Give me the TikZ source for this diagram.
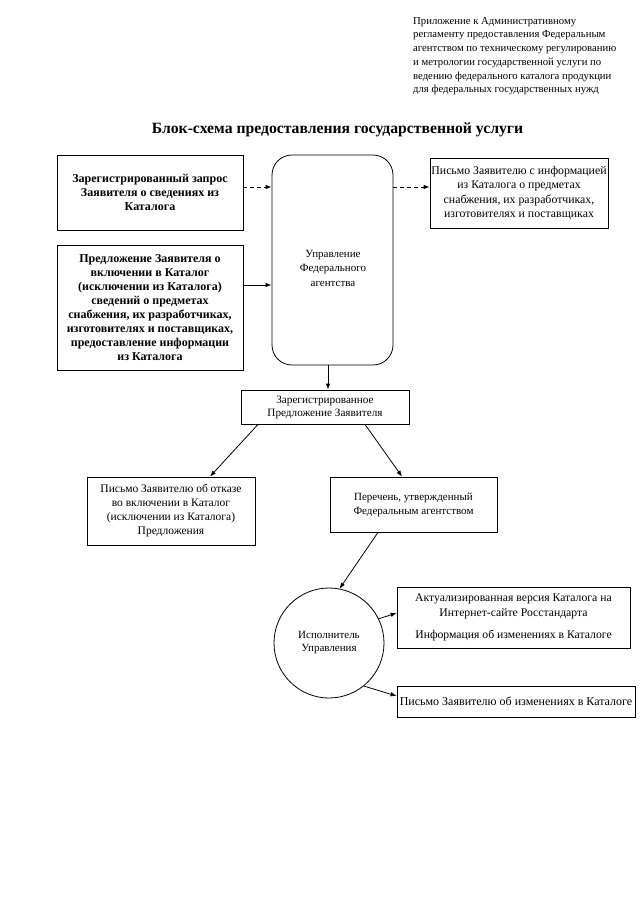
\documentclass[tikz,border=0pt]{standalone}
\usepackage{fontspec}
\setmainfont{Liberation Serif}
\usetikzlibrary{arrows.meta}
\begin{document}
\begin{tikzpicture}[x=1pt,y=-1pt,
  box/.style={draw,line width=0.8pt,inner sep=1pt,align=center,font=\fontsize{11.5}{14}\selectfont},
  bbox/.style={box,font=\bfseries\fontsize{12}{14}\selectfont},
  arr/.style={-{Latex[length=6pt,width=4.5pt]},line width=0.8pt},
  dasharr/.style={arr,dash pattern=on 4pt off 3pt}
]
\useasboundingbox (0,0) rectangle (640,905);
\fill[white] (0,0) rectangle (640,905);

\node[anchor=north west,inner sep=0pt,align=left,font=\fontsize{10.7}{13.7}\selectfont] (hdr) at (413,17)
 {Приложение к Административному\\регламенту предоставления Федеральным\\агентством по техническому регулированию\\и метрологии государственной услуги по\\ведению федерального каталога продукции\\для федеральных государственных нужд};

\node[font=\bfseries\fontsize{15.7}{18}\selectfont] (title) at (337.5,130) {Блок-схема предоставления государственной услуги};

\node[bbox,minimum width=186pt,minimum height=75pt] (b1) at (150,192.5)
 {Зарегистрированный запрос\\Заявителя о сведениях из\\Каталога};
\node[bbox,minimum width=186pt,minimum height=125pt] (b2) at (150,307.5)
 {Предложение Заявителя о\\включении в Каталог\\(исключении из Каталога)\\сведений о предметах\\снабжения, их разработчиках,\\изготовителях и поставщиках,\\предоставление информации\\из Каталога};
\node[box,rounded corners=20pt,minimum width=121pt,minimum height=210pt] (upr) at (332.5,260) {};
\node[font=\fontsize{11}{14.5}\selectfont,align=center] (uprt) at (333,268) {Управление\\Федерального\\агентства};
\node[box,font=\fontsize{11.8}{14.3}\selectfont,minimum width=178pt,minimum height=70pt] (pis) at (519,193)
 {Письмо Заявителю с информацией\\из Каталога о предметах\\снабжения, их разработчиках,\\изготовителях и поставщиках};
\node[box,font=\fontsize{11.2}{13}\selectfont,minimum width=168pt,minimum height=34pt] (reg) at (325,407)
 {Зарегистрированное\\Предложение Заявителя};
\node[box,minimum width=168pt,minimum height=68pt] (otk) at (171,511)
 {Письмо Заявителю об отказе\\во включении в Каталог\\(исключении из Каталога)\\Предложения};
\node[box,font=\fontsize{11}{14}\selectfont,minimum width=167pt,minimum height=55pt] (per) at (413.5,504.5)
 {Перечень, утвержденный\\Федеральным агентством};
\node[draw,circle,line width=0.8pt,minimum size=110pt,inner sep=0pt,align=center,font=\fontsize{11}{13}\selectfont] (isp) at (329,643)
 {Исполнитель\\Управления};
\node[box,font=\fontsize{11.7}{15}\selectfont,minimum width=233pt,minimum height=61pt] (akt) at (513.5,617.5)
 {Актуализированная версия Каталога на\\Интернет-сайте Росстандарта\\[7pt]Информация об изменениях в Каталоге};
\node[box,font=\fontsize{12}{14}\selectfont,minimum width=238pt,minimum height=31pt] (izm) at (516,701.5)
 {Письмо Заявителю об изменениях в Каталоге};

\draw[dasharr] (b1.east |- 0,187) -- (upr.west |- 0,187);
\draw[arr] (b2.east |- 0,285) -- (upr.west |- 0,285);
\draw[dasharr] (upr.east |- 0,187) -- (pis.west |- 0,187);
\draw[arr] (upr.south -| 328,0) -- (reg.north -| 328,0);
\draw[arr] (reg.south -| 258,0) -- (otk.north -| 210,0);
\draw[arr] (reg.south -| 365,0) -- (per.north -| 402,0);
\draw[arr] (per.south -| 378,0) -- (isp.79);
\draw[arr] (isp.26) -- (akt.west |- 0,613);
\draw[arr] (isp.-51) -- (izm.west |- 0,696);
\end{tikzpicture}
\end{document}
